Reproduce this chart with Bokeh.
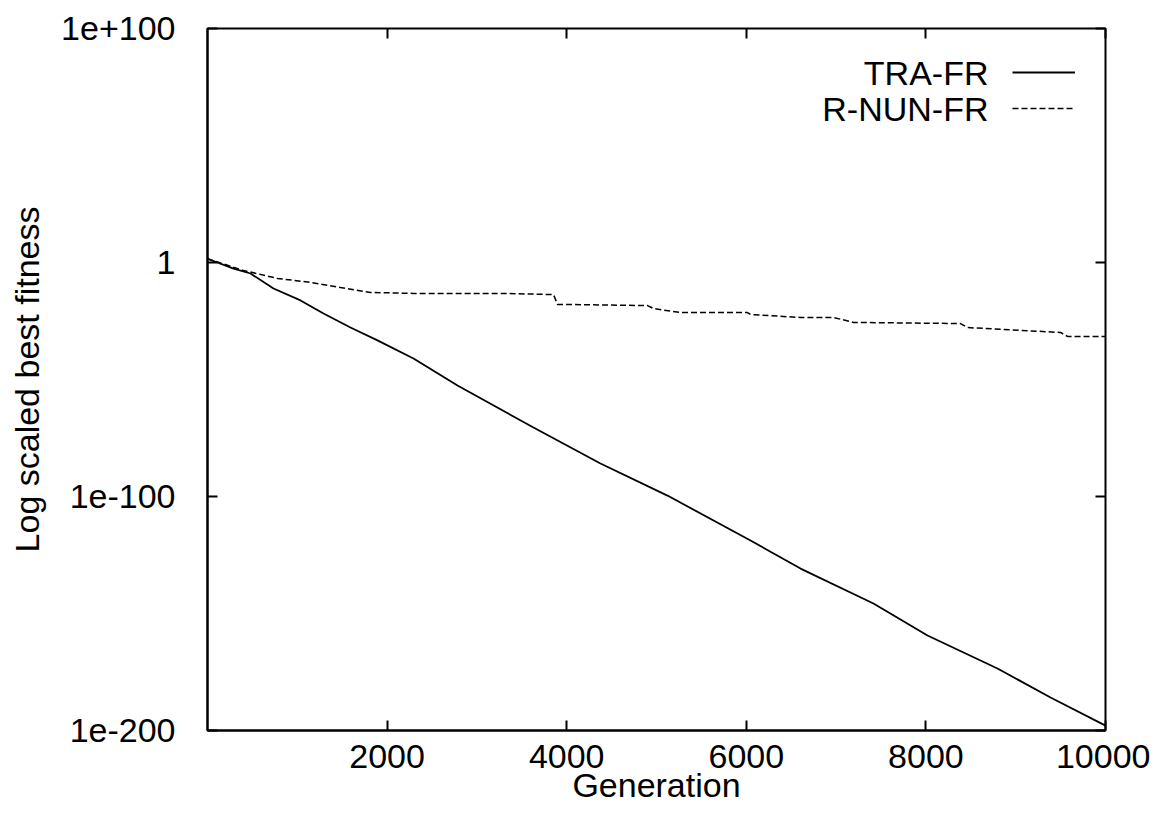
from bokeh.plotting import figure
from bokeh.models import (Range1d, FixedTicker, CustomJSTickFormatter, LinearAxis,
                          LogAxis, Legend, LegendItem, Label)
from bokeh.embed import file_html
from bokeh.resources import INLINE

# ---- data ----
tra_gen = [0, 290, 479, 735, 1036, 1292, 1592, 1893, 2294, 2784, 3630, 4376,
           5122, 6047, 6604, 7416, 8018, 8797, 9388, 10000]
tra_exp = [1.6, -2.6, -4.7, -11.1, -16.2, -21.8, -27.8, -33.3, -41.0, -52.6,
           -70.5, -85.9, -99.6, -118.8, -130.8, -145.7, -159.4, -173.5, -185.9, -197.9]

nun_gen = [0, 400, 780, 1147, 1481, 1815, 2294, 3263, 3853, 3898, 4900, 4967,
           5267, 6013, 6047, 6604, 6971, 7194, 8385, 8463, 9499, 9577, 10000]
nun_exp = [1.6, -3.4, -6.8, -8.5, -10.7, -12.8, -13.2, -13.2, -13.7, -17.9,
           -18.4, -19.7, -21.4, -21.4, -22.2, -23.5, -23.5, -25.6, -26.1, -27.8,
           -29.9, -31.6, -31.6]

x_ticks = [2000, 4000, 6000, 8000, 10000]
y_tick_exps = [-200, -100, 0, 100]
series_names = ["TRA-FR", "R-NUN-FR"]

tra_val = [10.0 ** e for e in tra_exp]
nun_val = [10.0 ** e for e in nun_exp]
y_ticks = [10.0 ** e for e in y_tick_exps]

FONT = "Liberation Sans"
FS = "34px"

p = figure(frame_width=898, frame_height=702, y_axis_type="log",
           x_range=Range1d(0, 10000), y_range=Range1d(1e-200, 1e100),
           output_backend="svg", toolbar_location=None,
           min_border_left=207, min_border_right=45, min_border_top=28,
           min_border_bottom=60)
p.background_fill_color = "white"
p.border_fill_color = "white"
p.grid.visible = False
p.outline_line_color = "black"
p.outline_line_width = 2

fmt = CustomJSTickFormatter(code="""
const e = Math.round(Math.log10(tick));
if (e == 0) return '1';
return e > 0 ? '1e+' + e : '1e' + e;
""")

xa = p.xaxis[0]
xa.ticker = FixedTicker(ticks=x_ticks)
xa.axis_label = "Generation"
ya = p.yaxis[0]
ya.ticker = FixedTicker(ticks=y_ticks)
ya.formatter = fmt
ya.axis_label = "Log scaled best fitness"

for ax in (xa, ya):
    ax.major_tick_in = 10
    ax.major_tick_out = 0
    ax.minor_tick_line_color = None
    ax.axis_line_width = 2
    ax.major_tick_line_width = 2
    ax.major_label_text_font = FONT
    ax.major_label_text_font_size = FS
    ax.major_label_text_color = "black"
    ax.axis_label_text_font = FONT
    ax.axis_label_text_font_size = FS
    ax.axis_label_text_font_style = "normal"
    ax.axis_label_text_color = "black"
xa.major_label_standoff = 14
xa.axis_label_standoff = -5
ya.major_label_standoff = 32
ya.axis_label_standoff = 12

# mirrored tick marks on the top and right edges (no labels)
top = LinearAxis(ticker=FixedTicker(ticks=x_ticks), major_tick_in=10, major_tick_out=0,
                 minor_tick_line_color=None, axis_line_color=None,
                 major_tick_line_width=2, major_label_text_color=None,
                 major_label_text_font_size="8px", major_label_standoff=0)
right = LogAxis(ticker=FixedTicker(ticks=y_ticks), formatter=fmt,
                major_tick_in=10, major_tick_out=0,
                minor_tick_line_color=None, axis_line_color=None,
                major_tick_line_width=2, major_label_text_color=None,
                major_label_text_font_size="8px", major_label_standoff=0)
p.add_layout(top, "above")
p.add_layout(right, "right")

r1 = p.line(tra_gen, tra_val, line_color="black", line_width=1.8)
r2 = p.line(nun_gen, nun_val, line_color="black", line_width=1.5, line_dash="6 3")

legend = Legend(items=[LegendItem(label=" ", renderers=[r1]),
                       LegendItem(label=" ", renderers=[r2])],
                location=(805, 604), glyph_width=63, glyph_height=36,
                label_height=36, label_width=4, label_standoff=0, spacing=0,
                padding=0, margin=0, border_line_color=None,
                background_fill_alpha=0, label_text_font_size="12px")
p.add_layout(legend, "center")

for i, name in enumerate(series_names):
    p.add_layout(Label(x=781, y=658 - 36 * i, x_units="screen", y_units="screen",
                       text=name, text_align="right", text_baseline="middle",
                       text_font=FONT, text_font_size=FS, text_color="black"))

open("out.html", "w").write(file_html(p, INLINE))
